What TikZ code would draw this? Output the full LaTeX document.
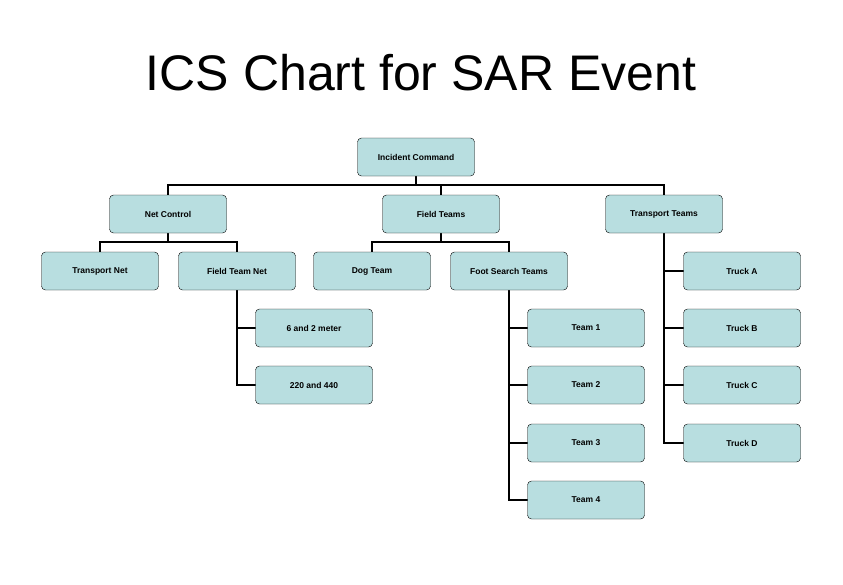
\documentclass[tikz,border=0pt]{standalone}
\usepackage{fontspec}
\setmainfont{Liberation Sans}
\definecolor{boxfill}{RGB}{184,222,224}
\begin{document}
\begin{tikzpicture}
    [
    x=1pt,y=-1pt,
    unit/.style={draw,fill=boxfill,rounded corners=4pt,minimum width=117pt,minimum height=38pt,inner sep=0pt,font=\fontsize{8.5}{10}\selectfont\bfseries},
    link/.style={line width=1.6pt}
    ]
    \useasboundingbox (0,0) rectangle (843,584);
    \node (title) at (421,73) {\fontsize{50}{56}\selectfont ICS Chart for SAR Event};

    \coordinate (bus0) at (416,185);
    \coordinate (bus1) at (168,242);
    \coordinate (bus2) at (441,242);

    \draw [link] (416,157) -- (bus0);
    \draw [link] (168,214) |- (bus0) -| (664,214);
    \draw [link] (bus0) -| (441,214);
    \draw [link] (168,214) -- (bus1);
    \draw [link] (100,271) |- (bus1) -| (237,271);
    \draw [link] (441,214) -- (bus2);
    \draw [link] (372,271) |- (bus2) -| (509,271);
    \draw [link] (237,271) |- (314,385);
    \draw [link] (237,328) -- (314,328);
    \draw [link] (509,271) |- (586,500);
    \foreach \y in {328,385,443} \draw [link] (509,\y) -- (586,\y);
    \draw [link] (664,214) |- (742,443);
    \foreach \y in {271,328,385} \draw [link] (664,\y) -- (742,\y);

    \node (ic) at (416,157) [unit] {Incident Command};
    \node (net) at (168,214) [unit] {Net Control};
    \node (field) at (441,214) [unit] {Field Teams};
    \node (trans) at (664,214) [unit] {Transport Teams};
    \node (tnet) at (100,271) [unit] {Transport Net};
    \node (fnet) at (237,271) [unit] {Field Team Net};
    \node (dog) at (372,271) [unit] {Dog Team};
    \node (foot) at (509,271) [unit] {Foot Search Teams};
    \node (m6) at (314,328) [unit] {6 and 2 meter};
    \node (m220) at (314,385) [unit] {220 and 440};
    \foreach \n/\y in {1/328,2/385,3/443,4/500}
      \node (team\n) at (586,\y) [unit] {Team \n};
    \foreach \n/\y in {A/271,B/328,C/385,D/443}
      \node (truck\n) at (742,\y) [unit] {Truck \n};
\end{tikzpicture}
\end{document}
